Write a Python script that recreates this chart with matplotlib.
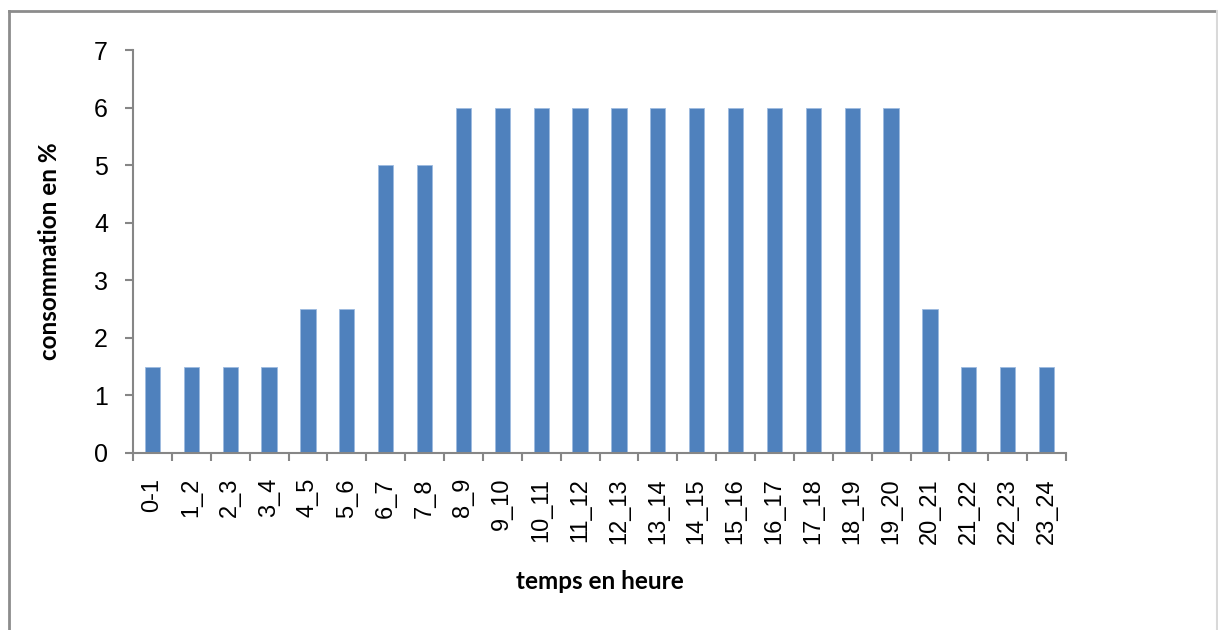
import matplotlib.pyplot as plt
from matplotlib.lines import Line2D
import numpy as np

hours = ['0-1', '1_2', '2_3', '3_4', '4_5', '5_6', '6_7', '7_8', '8_9', '9_10',
         '10_11', '11_12', '12_13', '13_14', '14_15', '15_16', '16_17', '17_18',
         '18_19', '19_20', '20_21', '21_22', '22_23', '23_24']
consumption = [1.5, 1.5, 1.5, 1.5, 2.5, 2.5, 5, 5, 6, 6, 6, 6, 6, 6, 6, 6,
               6, 6, 6, 6, 2.5, 1.5, 1.5, 1.5]
y_ticks = [0, 1, 2, 3, 4, 5, 6, 7]

tick_font = ['Liberation Sans', 'DejaVu Sans']
label_font = ['Lato', 'DejaVu Sans']
axis_grey = '#868686'

fig = plt.figure(figsize=(12.18, 6.3), dpi=100)
ax = fig.add_axes([133 / 1218, 1 - 453 / 630, 933 / 1218, 403 / 630])

x = np.arange(len(hours))
ax.bar(x, consumption, width=0.39, color='#4F81BD', edgecolor='#9dbbe0',
       linewidth=0.6, zorder=2)

ax.set_xlim(-0.5, len(hours) - 0.5)
ax.set_ylim(0, 7)
ax.set_yticks(y_ticks)
ax.set_yticklabels([str(v) for v in y_ticks], family=tick_font, fontsize=18)

# category labels at the bar centres, tick marks between categories
ax.set_xticks(x)
ax.set_xticklabels(hours, rotation=90, family=tick_font, fontsize=17)
ax.tick_params(axis='x', which='major', length=0, pad=18)
ax.set_xticks(np.arange(len(hours) + 1) - 0.5, minor=True)
ax.tick_params(axis='x', which='minor', length=6, width=1.5,
               color=axis_grey, direction='out')
ax.tick_params(axis='y', length=6, width=1.5, color=axis_grey, pad=12)

for side in ['top', 'right']:
    ax.spines[side].set_visible(False)
for side in ['left', 'bottom']:
    ax.spines[side].set_color(axis_grey)
    ax.spines[side].set_linewidth(1.5)

ax.set_xlabel('temps en heure', family=label_font, fontweight='bold',
              fontsize=17.5, labelpad=19)
ax.set_ylabel('consommation en %', family=label_font, fontweight='bold',
              fontsize=17.5, labelpad=24)

# chart frame
fx0, fy1, fx1 = 9 / 1218, 1 - 11 / 630, 1217 / 1218
fig.add_artist(Line2D([fx0, fx0], [0, fy1], color='#8c8c8c', lw=2,
                      transform=fig.transFigure))
fig.add_artist(Line2D([fx0, fx1], [fy1, fy1], color='#8c8c8c', lw=2,
                      transform=fig.transFigure))
fig.add_artist(Line2D([fx1, fx1], [0, fy1], color='#d9d9d9', lw=1.5,
                      transform=fig.transFigure))

fig.savefig('out.png', dpi=100)
